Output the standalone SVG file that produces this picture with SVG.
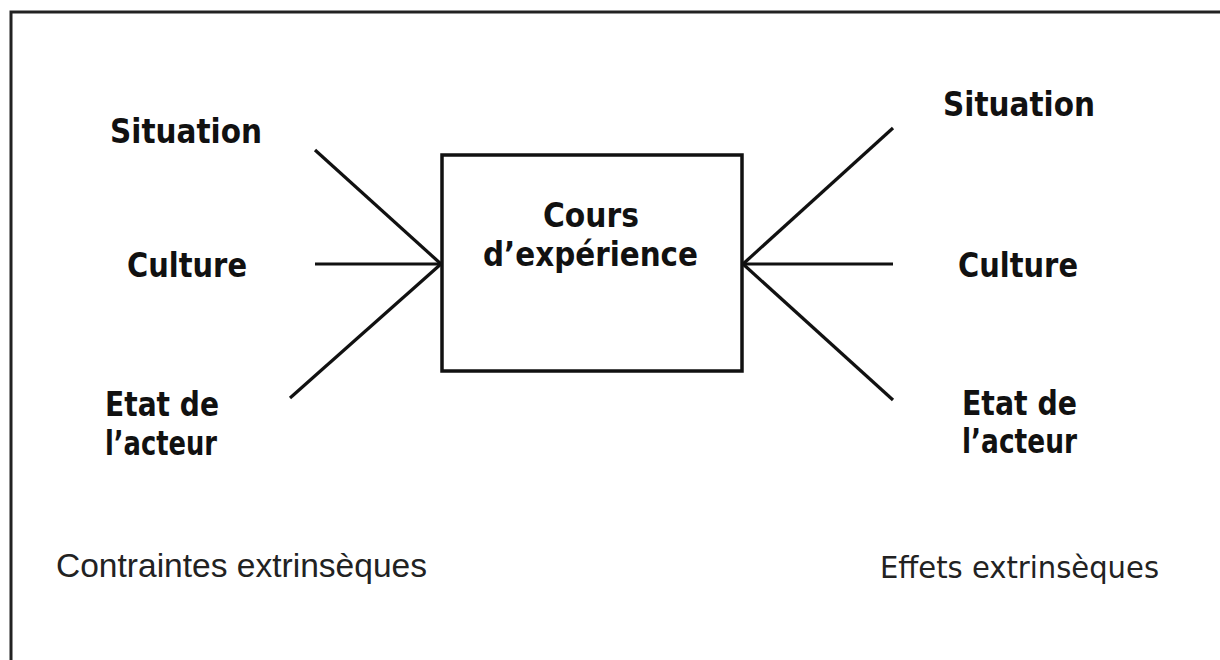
<svg xmlns="http://www.w3.org/2000/svg" width="1220" height="660" viewBox="0 0 1220 660">
<style>
.b{font-family:"DejaVu Sans",Verdana,sans-serif;font-weight:bold;font-size:33px;fill:#111}
.r{font-family:"Liberation Sans",Arial,sans-serif;font-size:34px;fill:#222}
.t{font-family:"DejaVu Sans",Tahoma,sans-serif;font-size:31px;fill:#222}
.ln{stroke:#111;stroke-width:3.2;fill:none}
</style>
<rect x="0" y="0" width="1220" height="660" fill="#fff"/>
<rect x="11" y="12" width="1230" height="680" fill="none" stroke="#222" stroke-width="3"/>
<g id="connectors">
<line class="ln" x1="315" y1="150" x2="441" y2="264"/>
<line class="ln" x1="315" y1="264" x2="441" y2="264"/>
<line class="ln" x1="290" y1="398" x2="441" y2="264"/>
<line class="ln" x1="893" y1="128" x2="743" y2="264"/>
<line class="ln" x1="893" y1="264" x2="743" y2="264"/>
<line class="ln" x1="893" y1="400" x2="743" y2="264"/>
</g>
<g id="center">
<rect x="442" y="155" width="300" height="216" fill="none" stroke="#111" stroke-width="3.5"/>
<text class="b" x="543" y="227" textLength="96" lengthAdjust="spacingAndGlyphs">Cours</text>
<text class="b" x="483" y="266" textLength="215" lengthAdjust="spacingAndGlyphs">d’expérience</text>
</g>
<g id="left-situation"><text class="b" x="110" y="143" textLength="152" lengthAdjust="spacingAndGlyphs">Situation</text></g>
<g id="left-culture"><text class="b" x="127" y="277" textLength="120" lengthAdjust="spacingAndGlyphs">Culture</text></g>
<g id="left-etat"><text class="b" x="105" y="416" textLength="114" lengthAdjust="spacingAndGlyphs">Etat de</text><text class="b" x="105" y="455" textLength="112" lengthAdjust="spacingAndGlyphs">l’acteur</text></g>
<g id="right-situation"><text class="b" x="943" y="116" textLength="152" lengthAdjust="spacingAndGlyphs">Situation</text></g>
<g id="right-culture"><text class="b" x="958" y="277" textLength="120" lengthAdjust="spacingAndGlyphs">Culture</text></g>
<g id="right-etat"><text class="b" x="962" y="415" textLength="115" lengthAdjust="spacingAndGlyphs">Etat de</text><text class="b" x="962" y="453" textLength="115" lengthAdjust="spacingAndGlyphs">l’acteur</text></g>
<g id="left-caption"><text class="r" x="56" y="577" textLength="371" lengthAdjust="spacingAndGlyphs">Contraintes extrinsèques</text></g>
<g id="right-caption"><text class="t" x="880" y="578" textLength="279" lengthAdjust="spacingAndGlyphs">Effets extrinsèques</text></g>
</svg>
